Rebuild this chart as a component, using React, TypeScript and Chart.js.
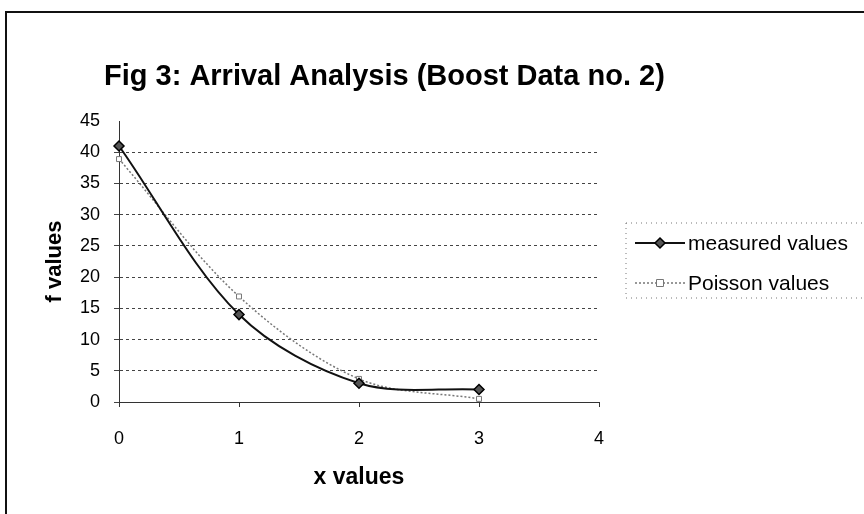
import React, { useEffect, useRef } from 'react';
import { Chart, registerables } from 'chart.js';

Chart.register(...registerables);

const chartTitle = 'Fig 3: Arrival Analysis (Boost Data no. 2)';
const xAxisTitle = 'x values';
const yAxisTitle = 'f values';
const seriesLabels = ['measured values', 'Poisson values'];
const xValues = [0, 1, 2, 3];
const measuredValues = [41, 14, 3, 2];
const poissonValues = [38.9, 16.9, 3.7, 0.5];
const xTickValues = [0, 1, 2, 3, 4];
const yTickValues = [0, 5, 10, 15, 20, 25, 30, 35, 40, 45];

const FONT = '"Liberation Sans", Arial, sans-serif';

const framePlugin = {
  id: 'frame',
  beforeDraw(chart: any) {
    const ctx = chart.ctx;
    ctx.save();
    ctx.fillStyle = '#ffffff';
    ctx.fillRect(0, 0, chart.width, chart.height);
    ctx.strokeStyle = '#111';
    ctx.lineWidth = 2;
    ctx.beginPath();
    ctx.moveTo(6, chart.height);
    ctx.lineTo(6, 12);
    ctx.lineTo(chart.width, 12);
    ctx.stroke();
    ctx.restore();
  },
};

const titlePlugin = {
  id: 'customTitle',
  afterDraw(chart: any) {
    const ctx = chart.ctx;
    ctx.save();
    ctx.fillStyle = '#000';
    ctx.font = `bold 29px ${FONT}`;
    ctx.textAlign = 'left';
    ctx.textBaseline = 'alphabetic';
    ctx.fillText(chartTitle, 104, 85);
    ctx.restore();
  },
};

function drawMarker(ctx: any, style: string, x: number, y: number, r: number, fill: string, stroke: string, lw: number) {
  ctx.save();
  ctx.setLineDash([]);
  ctx.fillStyle = fill;
  ctx.strokeStyle = stroke;
  ctx.lineWidth = lw;
  ctx.beginPath();
  if (style === 'rectRot') {
    ctx.moveTo(x, y - r);
    ctx.lineTo(x + r, y);
    ctx.lineTo(x, y + r);
    ctx.lineTo(x - r, y);
    ctx.closePath();
  } else {
    ctx.rect(x - r, y - r, 2 * r, 2 * r);
  }
  ctx.fill();
  ctx.stroke();
  ctx.restore();
}

const legendPlugin = {
  id: 'customLegend',
  afterDraw(chart: any) {
    const ctx = chart.ctx;
    const left = 626;
    const top = 223;
    const bottom = 298;
    ctx.save();
    ctx.strokeStyle = '#777';
    ctx.lineWidth = 1;
    ctx.setLineDash([1, 4]);
    ctx.strokeRect(left, top, chart.width + 20 - left, bottom - top);
    ctx.restore();
    chart.data.datasets.forEach((ds: any, i: number) => {
      const y = 243 + i * 40;
      ctx.save();
      ctx.strokeStyle = ds.borderColor;
      ctx.lineWidth = ds.borderWidth;
      ctx.setLineDash(ds.borderDash || []);
      ctx.beginPath();
      ctx.moveTo(635, y);
      ctx.lineTo(685, y);
      ctx.stroke();
      ctx.restore();
      drawMarker(ctx, ds.pointStyle, 660, y, ds.pointRadius, ds.pointBackgroundColor, ds.pointBorderColor, ds.pointBorderWidth);
      ctx.save();
      ctx.fillStyle = '#000';
      ctx.font = `21px ${FONT}`;
      ctx.textAlign = 'left';
      ctx.textBaseline = 'middle';
      ctx.fillText(ds.label, 688, y + 1);
      ctx.restore();
    });
  },
};

export default function App() {
  const canvasRef = useRef<HTMLCanvasElement | null>(null);

  useEffect(() => {
    const canvas = canvasRef.current;
    if (!canvas) return;
    const chart = new Chart(canvas, {
      type: 'line',
      data: {
        datasets: [
          {
            label: seriesLabels[0],
            data: xValues.map((x, i) => ({ x, y: measuredValues[i] })),
            borderColor: '#111',
            borderWidth: 2,
            pointStyle: 'rectRot',
            pointRadius: 5,
            pointBackgroundColor: '#555',
            pointBorderColor: '#000',
            pointBorderWidth: 1.5,
            tension: 0.33,
            fill: false,
            clip: false,
          },
          {
            label: seriesLabels[1],
            data: xValues.map((x, i) => ({ x, y: poissonValues[i] })),
            borderColor: '#777',
            borderWidth: 1.5,
            borderDash: [2, 2],
            pointStyle: 'rect',
            pointRadius: 3.5,
            pointBackgroundColor: '#fff',
            pointBorderColor: '#777',
            pointBorderWidth: 1,
            tension: 0.33,
            fill: false,
            clip: false,
          },
        ] as any,
      },
      options: {
        animation: false,
        responsive: false,
        maintainAspectRatio: false,
        layout: { padding: { left: 0, top: 121, right: 265, bottom: 0 } },
        plugins: {
          legend: { display: false },
          title: { display: false },
          tooltip: { enabled: false },
        },
        scales: {
          x: {
            type: 'linear',
            min: xTickValues[0],
            max: xTickValues[xTickValues.length - 1],
            afterFit: (scale: any) => {
              scale.height = 112;
            },
            afterBuildTicks: (scale: any) => {
              scale.ticks = xTickValues.map((v) => ({ value: v }));
            },
            ticks: {
              color: '#000',
              font: { family: FONT, size: 18 },
              padding: 21,
              maxRotation: 0,
            },
            grid: {
              drawOnChartArea: false,
              drawTicks: true,
              tickLength: 5,
              color: '#333',
            },
            border: { display: true, color: '#333', width: 1 },
            title: {
              display: true,
              text: xAxisTitle,
              color: '#000',
              font: { family: FONT, size: 23, weight: 'bold' },
              padding: { top: 0, bottom: 23 },
            },
          },
          y: {
            type: 'linear',
            min: yTickValues[0],
            max: yTickValues[yTickValues.length - 1],
            afterFit: (scale: any) => {
              scale.width = 119;
            },
            afterBuildTicks: (scale: any) => {
              scale.ticks = yTickValues.map((v) => ({ value: v }));
            },
            ticks: {
              color: '#000',
              font: { family: FONT, size: 18 },
              padding: 14,
            },
            grid: {
              color: (c: any) => (c.tick && c.tick.value === yTickValues[yTickValues.length - 1] ? 'rgba(0,0,0,0)' : '#444'),
              lineWidth: 1,
              drawTicks: true,
              tickLength: 5,
            },
            border: { display: true, color: '#333', width: 1, dash: [3, 3] },
            title: {
              display: true,
              text: yAxisTitle,
              color: '#000',
              font: { family: FONT, size: 22, weight: 'bold' },
              padding: { top: 42, bottom: 0 },
            },
          },
        },
      } as any,
      plugins: [framePlugin, titlePlugin, legendPlugin],
    });
    return () => chart.destroy();
  }, []);

  return (
    <div style={{ position: 'absolute', left: 0, top: 0, width: 864, height: 514 }}>
      <canvas ref={canvasRef} width={864} height={514} style={{ display: 'block', width: 864, height: 514 }} />
    </div>
  );
}
